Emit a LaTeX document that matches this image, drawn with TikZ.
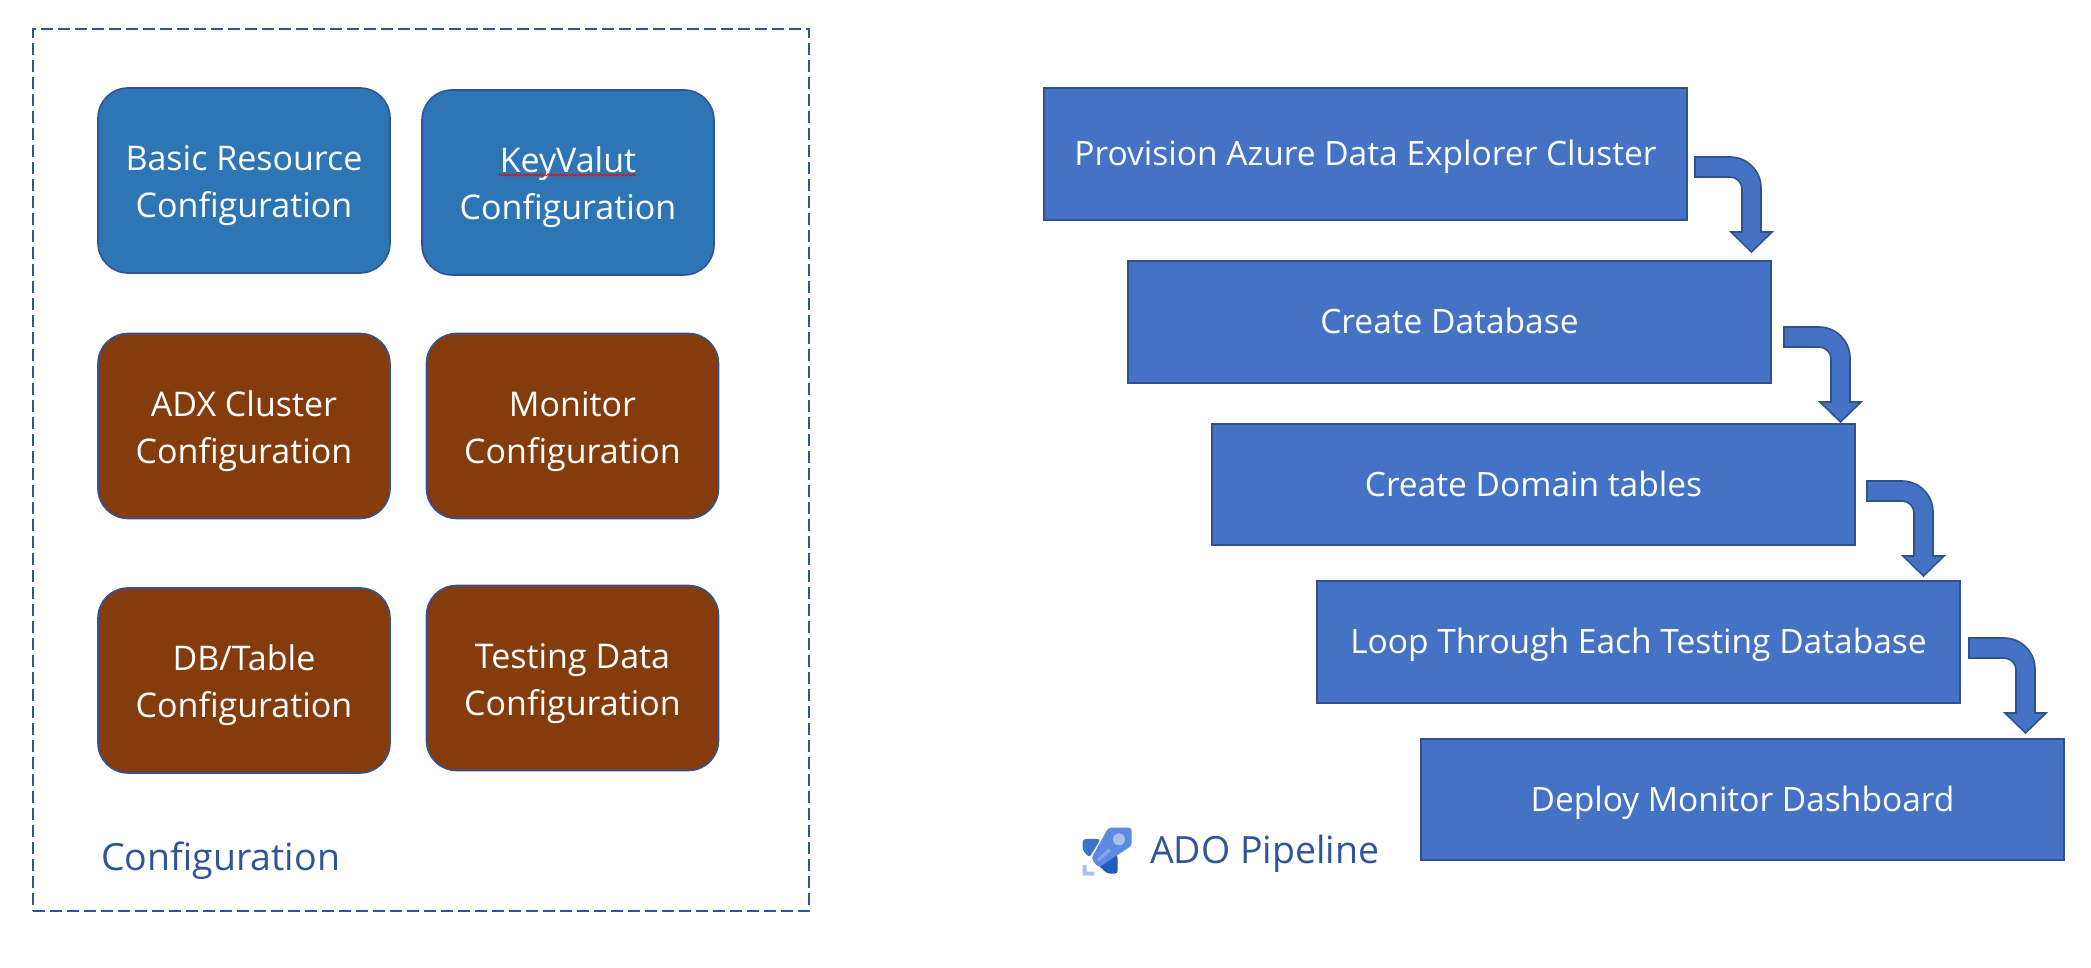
\documentclass[tikz,border=0pt]{standalone}
\usepackage{fontspec}
\setmainfont{Open Sans}
\usetikzlibrary{calc,decorations.pathmorphing}
\definecolor{edgeblue}{HTML}{2F5597}
\definecolor{cfgblue}{HTML}{2E75B6}
\definecolor{cfgbrown}{HTML}{843C0C}
\definecolor{stepblue}{HTML}{4472C4}
\definecolor{stepedge}{HTML}{2F528F}
\definecolor{rocketwing}{HTML}{3F72CC}
\definecolor{rocketfin}{HTML}{1F5CBE}
\definecolor{rocketbody}{HTML}{5B8AE0}
\definecolor{rocketstripe}{HTML}{7FA3EC}
\definecolor{rocketpale}{HTML}{A9C1F2}
\newcommand\cfglift{\rule{0pt}{36pt}}
\newcommand\bendarrow[1]{
  \draw[bendarrow] (#1) -- ++(35,0) arc[start angle=90,end angle=0,radius=31] -- ++(0,-44)
    -- ++(11,0) -- ++(-20.5,-20) -- ++(-20.5,20) -- ++(11,0) -- ++(0,43)
    arc[start angle=0,end angle=90,radius=12] -- ++(-35,0) -- cycle;
}

\begin{document}
\begin{tikzpicture}[x=1pt,y=1pt,
    cfgbox/.style={draw=edgeblue,line width=1.6pt,rounded corners=30pt,minimum width=292pt,minimum height=185pt,
      text=white,align=center,font=\fontsize{34}{47}\selectfont},
    bluecfg/.style={cfgbox,fill=cfgblue},
    browncfg/.style={cfgbox,fill=cfgbrown},
    stepbox/.style={draw=stepedge,line width=2pt,fill=stepblue,minimum width=643pt,text=white,font=\fontsize{33.5}{40}\selectfont,
      execute at begin node={\rule[-9pt]{0pt}{42pt}}},
    bendarrow/.style={draw=stepedge,line width=1.6pt,fill=stepblue},
    caption/.style={text=edgeblue,inner sep=0pt,anchor=base west,font=\fontsize{37.5}{40}\selectfont}]
  \useasboundingbox (0,0) rectangle (2091,967);
  \node (frame) [draw=edgeblue,line width=2pt,dash pattern=on 12pt off 5pt,minimum width=776pt,minimum height=882pt] at (421,497) {};

  \node (basic) [bluecfg] at (244,786.5) {\cfglift Basic Resource\\Configuration};
  \node (keyvault) [bluecfg] at (568,784.5) {\cfglift KeyValut\\Configuration};
  \node (adx) [browncfg] at (244,541) {\cfglift ADX Cluster\\Configuration};
  \node (monitor) [browncfg] at (572.5,541) {\cfglift Monitor\\Configuration};
  \node (dbtable) [browncfg] at (244,286.5) {\cfglift DB/Table\\Configuration};
  \node (testing) [browncfg] at (572.5,289) {\cfglift Testing Data\\Configuration};
  \draw[red,line width=.8pt,decorate,decoration={snake,amplitude=1pt,segment length=4pt}] (499,792) -- (636,792);
  \node (cfgtext) [caption] at (101,97) {Configuration};

  \node (cluster) [stepbox,minimum height=132pt] at (1365.5,813) {Provision Azure Data Explorer Cluster};
  \node (database) [stepbox,minimum height=122pt] at (1449.5,645) {Create Database};
  \node (tables) [stepbox,minimum height=121pt] at (1533.5,482.5) {Create Domain tables};
  \node (loop) [stepbox,minimum height=122pt] at (1638.5,325) {Loop Through Each Testing Database};
  \node (dashboard) [stepbox,minimum height=121pt] at (1742.5,167.5) {Deploy Monitor Dashboard};

  \coordinate (bend1) at ($(cluster.north east)+(7,-70)$);
  \coordinate (bend2) at ($(database.north east)+(12,-67)$);
  \coordinate (bend3) at ($(tables.north east)+(11,-58)$);
  \coordinate (bend4) at ($(loop.north east)+(8,-58)$);
  \bendarrow{bend1}
  \bendarrow{bend2}
  \bendarrow{bend3}
  \bendarrow{bend4}

  \begin{scope}[shift={(1070,152)},x=.3333pt,y=-.3333pt]
    \fill[rocketwing,rounded corners=3pt] (38,72) -- (92,72) -- (58,128) -- (38,106) -- cycle;
    \fill[rocketfin,rounded corners=3pt] (125,100) -- (143,122) -- (143,176) -- (112,176) -- (84,150) -- cycle;
    \fill[rocketbody,rounded corners=3pt] (115,38) -- (185,38) -- (185,92) -- (85,158) -- (64,130) -- cycle;
    \draw[white,line width=1pt] (58,128) -- (78,154);
    \fill[rocketpale] (147,73) circle[radius=6pt];
    \draw[rocketstripe,line width=3.5pt] (84,136) -- (120,104);
    \fill[rocketpale] (38,150) -- (50,150) -- (50,170) -- (73,170) -- (73,182) -- (38,182) -- cycle;
  \end{scope}
  \node (adotext) [caption] at (1150,104) {ADO Pipeline};
\end{tikzpicture}
\end{document}
